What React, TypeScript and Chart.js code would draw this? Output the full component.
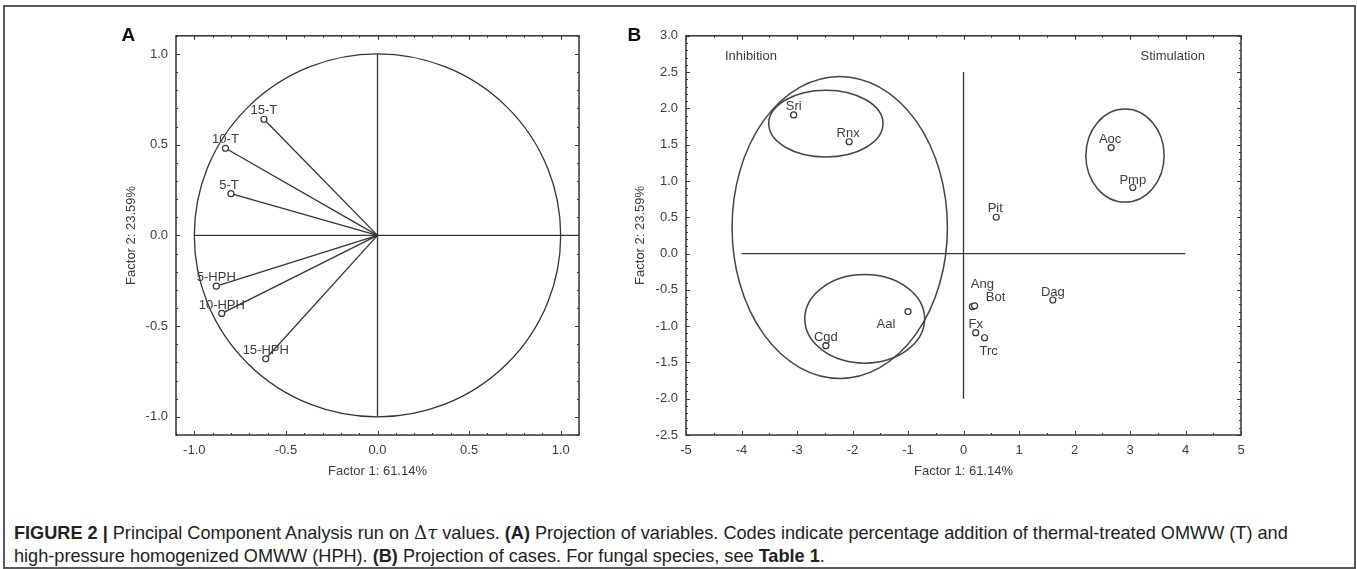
import React, { useEffect, useRef } from "react";
import { Chart, registerables } from "chart.js";

Chart.register(...registerables);

// ---------- Panel A: projection of variables (loadings) ----------
const varLabels = ["15-T", "10-T", "5-T", "5-HPH", "10-HPH", "15-HPH"];
const varFactor1 = [-0.62, -0.83, -0.8, -0.88, -0.85, -0.61];
const varFactor2 = [0.64, 0.48, 0.23, -0.28, -0.43, -0.68];
const ticksA = [-1.0, -0.5, 0.0, 0.5, 1.0];
const rangeA = [-1.1, 1.1];
const unitCircleRadius = [1];
const crossAH = [-1, 1.1]; // horizontal reference line at y = 0 (x extent)
const crossAV = [1, -1]; // vertical reference line at x = 0 (y extent)

// ---------- Panel B: projection of cases (scores) ----------
const caseLabels = ["Sri", "Rnx", "Pit", "Aoc", "Pmp", "Aal", "Cgd", "Ang", "Bot", "Fx", "Trc", "Dag"];
const caseFactor1 = [-3.06, -2.06, 0.59, 2.66, 3.05, -1.0, -2.48, 0.16, 0.2, 0.22, 0.38, 1.61];
const caseFactor2 = [1.91, 1.54, 0.5, 1.46, 0.91, -0.8, -1.27, -0.73, -0.72, -1.09, -1.16, -0.64];
const ticksBX = [-5, -4, -3, -2, -1, 0, 1, 2, 3, 4, 5];
const ticksBY = [-2.5, -2.0, -1.5, -1.0, -0.5, 0.0, 0.5, 1.0, 1.5, 2.0, 2.5, 3.0];
const rangeBX = [-5, 5];
const rangeBY = [-2.5, 3.0];
const crossBH = [-4, 4];
const crossBV = [2.5, -2.0];

// grouping ellipses (data units): centre x, centre y, radius x, radius y
const ellipseCx = [-2.23, -2.48, -1.78, 2.91];
const ellipseCy = [0.36, 1.79, -0.9, 1.35];
const ellipseRx = [1.94, 1.03, 1.08, 0.705];
const ellipseRy = [2.08, 0.46, 0.61, 0.64];

const regionLabels = ["Inhibition", "Stimulation"];
const regionX = [-3.83, 3.77];
const regionY = [2.72, 2.72];

const titleX = "Factor 1: 61.14%";
const titleY = "Factor 2: 23.59%";

// ---------- label placement (pixels, style only) ----------
const varLabelDx = [0, 0, -2, 0, 0, 0];
const varLabelDy = [-8.5, -8.5, -8.5, -8.5, -8.5, -8.5];
const caseLabelDx = [0, -1, -1, -1, 0, -22, 0, 10, 21, 0, 4, 0];
const caseLabelDy = [-8, -8, -8.5, -8, -7.5, 13, -8.5, -22, -8, -8, 14, -8];

const INK = "#333";
const TEXT = "#3c3c3c";
const FONT = "'Liberation Sans', Arial, sans-serif";
const CAPTION_WIDTH = 1274;

function walkTicks(min: number, max: number, minor: number, major: number, fn: (v: number, len: number) => void) {
  const start = Math.ceil(min / minor - 1e-6);
  const end = Math.floor(max / minor + 1e-6);
  for (let i = start; i <= end; i++) {
    const v = i * minor;
    const r = v / major;
    const isMajor = Math.abs(r - Math.round(r)) < 1e-6;
    fn(v, isMajor ? 4 : 2);
  }
}

function framePlugin(xMinor: number, xMajor: number, yMinor: number, yMajor: number) {
  return {
    id: "frameTicks",
    afterDatasetsDraw(chart: any) {
      const { ctx, chartArea: a, scales } = chart;
      const xs = scales.x;
      const ys = scales.y;
      ctx.save();
      ctx.strokeStyle = INK;
      ctx.lineWidth = 1.5;
      ctx.strokeRect(a.left, a.top, a.right - a.left, a.bottom - a.top);
      ctx.lineWidth = 1;
      ctx.beginPath();
      walkTicks(xs.min, xs.max, xMinor, xMajor, (v, len) => {
        const p = Math.round(xs.getPixelForValue(v)) + 0.5;
        ctx.moveTo(p, a.bottom);
        ctx.lineTo(p, a.bottom - len);
        ctx.moveTo(p, a.top);
        ctx.lineTo(p, a.top + len);
      });
      walkTicks(ys.min, ys.max, yMinor, yMajor, (v, len) => {
        const p = Math.round(ys.getPixelForValue(v)) + 0.5;
        ctx.moveTo(a.left, p);
        ctx.lineTo(a.left + len, p);
        ctx.moveTo(a.right, p);
        ctx.lineTo(a.right - len, p);
      });
      ctx.stroke();
      ctx.restore();
    },
  };
}

const pointLabelPlugin = {
  id: "pointLabels",
  afterDatasetsDraw(chart: any) {
    const { ctx } = chart;
    ctx.save();
    ctx.fillStyle = TEXT;
    ctx.font = `13px ${FONT}`;
    ctx.textAlign = "center";
    ctx.textBaseline = "middle";
    chart.data.datasets.forEach((ds: any, i: number) => {
      if (!ds.pointText) return;
      const meta = chart.getDatasetMeta(i);
      ds.pointText.forEach((t: string, j: number) => {
        if (!t) return;
        const el = meta.data[j];
        ctx.fillText(t, el.x + ds.labelDx[j], el.y + ds.labelDy[j]);
      });
    });
    ctx.restore();
  },
};

function scaleConfig(
  range: number[],
  tickVals: number[],
  fmt: (v: number) => string,
  horizontal: boolean,
  size: number,
  titlePad: any
) {
  return {
    type: "linear",
    position: horizontal ? "bottom" : "left",
    min: range[0],
    max: range[1],
    grid: { display: false, drawTicks: false },
    border: { display: false },
    afterBuildTicks: (s: any) => {
      s.ticks = tickVals.map((v) => ({ value: v }));
    },
    afterFit: (s: any) => {
      if (horizontal) s.height = size;
      else s.width = size;
    },
    ticks: {
      padding: 8,
      color: TEXT,
      font: { family: FONT, size: 13 },
      maxRotation: 0,
      autoSkip: false,
      callback: (v: any) => fmt(Number(v)),
    },
    title: {
      display: true,
      text: horizontal ? titleX : titleY,
      color: TEXT,
      font: { family: FONT, size: 13 },
      padding: titlePad,
    },
  };
}

function lineSeg(points: { x: number; y: number }[]) {
  return {
    data: points,
    showLine: true,
    borderColor: INK,
    borderWidth: 1.3,
    pointRadius: 0,
    pointHoverRadius: 0,
  };
}

function configA(): any {
  const vectors = varLabels.map((lab, i) => ({
    data: [
      { x: 0, y: 0 },
      { x: varFactor1[i], y: varFactor2[i] },
    ],
    showLine: true,
    borderColor: INK,
    borderWidth: 1.3,
    pointRadius: [0, 3],
    pointHoverRadius: [0, 3],
    pointBorderColor: INK,
    pointBackgroundColor: "#fff",
    pointBorderWidth: 1.2,
    pointText: ["", lab],
    labelDx: [0, varLabelDx[i]],
    labelDy: [0, varLabelDy[i]],
  }));
  const circlePlugin = {
    id: "unitCircle",
    beforeDatasetsDraw(chart: any) {
      const { ctx, scales } = chart;
      const xs = scales.x;
      const ys = scales.y;
      ctx.save();
      ctx.strokeStyle = INK;
      ctx.lineWidth = 1.3;
      unitCircleRadius.forEach((r) => {
        const cx = xs.getPixelForValue(0);
        const cy = ys.getPixelForValue(0);
        const rx = Math.abs(xs.getPixelForValue(r) - cx);
        const ry = Math.abs(ys.getPixelForValue(r) - cy);
        ctx.beginPath();
        ctx.ellipse(cx, cy, rx, ry, 0, 0, Math.PI * 2);
        ctx.stroke();
      });
      ctx.restore();
    },
  };
  return {
    type: "scatter",
    data: {
      datasets: [
        lineSeg([
          { x: crossAH[0], y: 0 },
          { x: crossAH[1], y: 0 },
        ]),
        lineSeg([
          { x: 0, y: crossAV[0] },
          { x: 0, y: crossAV[1] },
        ]),
        ...vectors,
      ],
    },
    options: {
      responsive: false,
      animation: false,
      devicePixelRatio: 1,
      events: [],
      layout: { padding: { left: 0, top: 13, right: 21, bottom: 0 } },
      plugins: { legend: { display: false }, tooltip: { enabled: false } },
      scales: {
        x: scaleConfig(rangeA, ticksA, (v) => v.toFixed(1), true, 55, { top: 0, bottom: 11 }),
        y: scaleConfig(rangeA, ticksA, (v) => v.toFixed(1), false, 76, { top: 24, bottom: 0 }),
      },
    },
    plugins: [circlePlugin, framePlugin(0.1, 0.5, 0.1, 0.5), pointLabelPlugin],
  };
}

function configB(): any {
  const shapesPlugin = {
    id: "groups",
    beforeDatasetsDraw(chart: any) {
      const { ctx, scales } = chart;
      const xs = scales.x;
      const ys = scales.y;
      ctx.save();
      ctx.strokeStyle = "#444";
      ctx.lineWidth = 1.5;
      ellipseCx.forEach((cxv, i) => {
        const cx = xs.getPixelForValue(cxv);
        const cy = ys.getPixelForValue(ellipseCy[i]);
        const rx = Math.abs(xs.getPixelForValue(cxv + ellipseRx[i]) - cx);
        const ry = Math.abs(ys.getPixelForValue(ellipseCy[i] + ellipseRy[i]) - cy);
        ctx.beginPath();
        ctx.ellipse(cx, cy, rx, ry, 0, 0, Math.PI * 2);
        ctx.stroke();
      });
      ctx.fillStyle = TEXT;
      ctx.font = `13px ${FONT}`;
      ctx.textAlign = "center";
      ctx.textBaseline = "middle";
      regionLabels.forEach((t, i) => {
        ctx.fillText(t, xs.getPixelForValue(regionX[i]), ys.getPixelForValue(regionY[i]));
      });
      ctx.restore();
    },
  };
  return {
    type: "scatter",
    data: {
      datasets: [
        lineSeg([
          { x: crossBH[0], y: 0 },
          { x: crossBH[1], y: 0 },
        ]),
        lineSeg([
          { x: 0, y: crossBV[0] },
          { x: 0, y: crossBV[1] },
        ]),
        {
          data: caseLabels.map((_, i) => ({ x: caseFactor1[i], y: caseFactor2[i] })),
          showLine: false,
          pointRadius: 3,
          pointHoverRadius: 3,
          pointBorderColor: INK,
          pointBackgroundColor: "#fff",
          pointBorderWidth: 1.2,
          pointText: caseLabels,
          labelDx: caseLabelDx,
          labelDy: caseLabelDy,
        },
      ],
    },
    options: {
      responsive: false,
      animation: false,
      devicePixelRatio: 1,
      events: [],
      layout: { padding: { left: 0, top: 13, right: 69, bottom: 0 } },
      plugins: { legend: { display: false }, tooltip: { enabled: false } },
      scales: {
        x: scaleConfig(rangeBX, ticksBX, (v) => String(v), true, 55, { top: 0, bottom: 11 }),
        y: scaleConfig(rangeBY, ticksBY, (v) => v.toFixed(1), false, 76, { top: 23, bottom: 0 }),
      },
    },
    plugins: [shapesPlugin, framePlugin(0.5, 1, 0.1, 0.5), pointLabelPlugin],
  };
}

export default function App() {
  const refA = useRef<HTMLCanvasElement>(null);
  const refB = useRef<HTMLCanvasElement>(null);
  const capRef = useRef<HTMLDivElement>(null);

  useEffect(() => {
    const a = new Chart(refA.current as HTMLCanvasElement, configA());
    const b = new Chart(refB.current as HTMLCanvasElement, configB());
    const cap = capRef.current;
    if (cap) {
      cap.style.transform = "none";
      const w = cap.offsetWidth;
      if (w > 0) cap.style.transform = `scaleX(${CAPTION_WIDTH / w})`;
    }
    return () => {
      a.destroy();
      b.destroy();
    };
  }, []);

  const letter: React.CSSProperties = {
    position: "absolute",
    font: `bold 19px ${FONT}`,
    lineHeight: "19px",
    color: "#111",
  };
  const caption: React.CSSProperties = {
    position: "absolute",
    left: 14,
    top: 521,
    width: "max-content",
    font: `18.5px ${FONT}`,
    lineHeight: "23px",
    color: "#222",
    whiteSpace: "nowrap",
    transformOrigin: "0 0",
  };

  return (
    <div
      style={{
        position: "absolute",
        left: 0,
        top: 0,
        width: 1357,
        height: 569,
        background: "#fff",
        overflow: "hidden",
      }}
    >
      <div
        style={{
          position: "absolute",
          left: 3,
          top: 5,
          width: 1349,
          height: 560,
          border: "2px solid #5a5a5a",
        }}
      />
      <canvas
        ref={refA}
        width={500}
        height={470}
        style={{ position: "absolute", left: 100, top: 20, width: 500, height: 470 }}
      />
      <canvas
        ref={refB}
        width={700}
        height={470}
        style={{ position: "absolute", left: 610, top: 20, width: 700, height: 470 }}
      />
      <div style={{ ...letter, left: 121.5, top: 24.5 }}>A</div>
      <div style={{ ...letter, left: 627.5, top: 24.5 }}>B</div>
      <div ref={capRef} style={caption}>
        <div>
          <b>FIGURE 2 |</b> Principal Component Analysis run on{" "}
          <span style={{ fontFamily: "'DejaVu Serif', serif" }}>
            Δ<i>τ</i>
          </span>{" "}
          values. <b>(A)</b> Projection of variables. Codes indicate percentage addition of thermal-treated OMWW (T)
          and
        </div>
        <div>
          high-pressure homogenized OMWW (HPH). <b>(B)</b> Projection of cases. For fungal species, see{" "}
          <b>Table 1</b>.
        </div>
      </div>
    </div>
  );
}
